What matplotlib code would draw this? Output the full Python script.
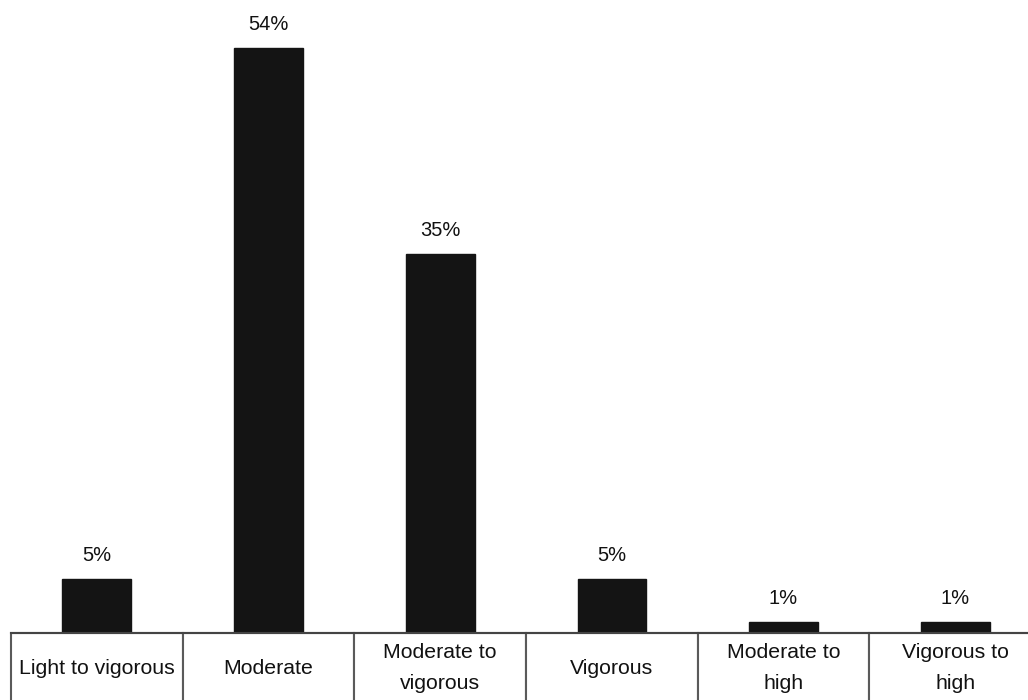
import matplotlib
matplotlib.use("Agg")
import matplotlib.pyplot as plt

categories = ["Light to vigorous", "Moderate", "Moderate to\nvigorous",
              "Vigorous", "Moderate to\nhigh", "Vigorous to\nhigh"]
values = [5, 54, 35, 5, 1, 1]

plt.rcParams['font.family'] = ['Liberation Sans', 'DejaVu Sans']

fig = plt.figure(figsize=(10.28, 7.0), dpi=100)
ax = fig.add_axes([11 / 1028, 67 / 700, 1030 / 1028, 633 / 700])

x = list(range(len(values)))
bars = ax.bar(x, values, width=0.4, color='#141414', edgecolor='#141414')
for b, v in zip(bars, values):
    ax.annotate(f"{v}%", (b.get_x() + b.get_width() / 2, v),
                xytext=(0, 10), textcoords='offset points',
                ha='center', va='bottom', fontsize=14.5, color='#111111')

ax.set_xlim(-0.5, len(values) - 0.5)
ax.set_ylim(0, 58.45)
for s in ax.spines.values():
    s.set_visible(False)
ax.set_xticks([])
ax.set_yticks([])

# category labels as a one-row table under the bars
h = 70 / 633
tbl = ax.table(cellText=[categories], cellLoc='center', bbox=[0, -h, 1, h])
tbl.auto_set_font_size(False)
tbl.set_fontsize(15.3)
for cell in tbl.get_celld().values():
    cell.set_edgecolor('#5a5a5a')
    cell.set_linewidth(1.5)
    cell.get_text().set_color('#111111')
    cell.get_text().set_linespacing(1.85)

ax.axhline(0, color='#444444', lw=1.5, clip_on=False)

fig.savefig("out.png", dpi=100)
